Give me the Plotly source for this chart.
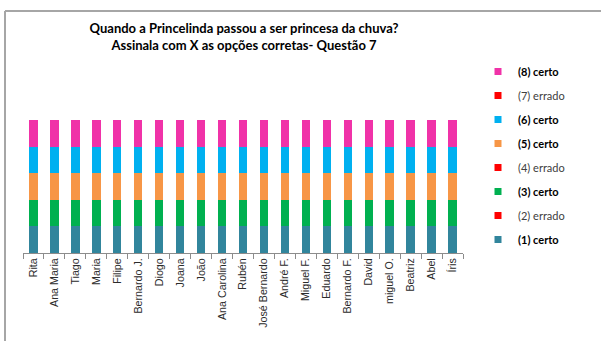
import plotly.graph_objects as go

# Students (x categories)
alunos = ["Rita", "Ana Maria", "Tiago", "Maria", "Filipe", "Bernardo J.", "Diogo",
          "Joana", "João", "Ana Carolina", "Rubén", "José Bernardo", "André F.",
          "Miguel F.", "Eduardo", "Bernardo F.", "David", "miguel O.", "Beatriz",
          "Abel", "Íris"]

# Answer options: 1 = ticked, 0 = not ticked
opcao_1 = [1] * 21
opcao_2 = [0] * 21
opcao_3 = [1] * 21
opcao_4 = [0] * 21
opcao_5 = [1] * 21
opcao_6 = [1] * 21
opcao_7 = [0] * 21
opcao_8 = [1] * 21

series = [
    ("(1) certo", opcao_1, "#31859C", True),
    ("(2) errado", opcao_2, "#FF0000", False),
    ("(3) certo", opcao_3, "#00B050", True),
    ("(4) errado", opcao_4, "#FF0000", False),
    ("(5) certo", opcao_5, "#F79646", True),
    ("(6) certo", opcao_6, "#00B0F0", True),
    ("(7) errado", opcao_7, "#FF0000", False),
    ("(8) certo", opcao_8, "#F032A8", True),
]

W, H = 601, 341
L, R, T, B = 23, 138, 120, 88
pw, ph = W - L - R, H - T - B

fig = go.Figure()
for i, (name, vals, color, ok) in enumerate(series):
    fig.add_trace(go.Bar(x=alunos, y=vals, name=name, marker_color=color,
                         marker_line_width=0, showlegend=False,
                         legendgroup=f"g{i}"))
# Legend entries with small square swatches, option 8 listed first
n = len(series)
for i, (name, vals, color, ok) in enumerate(series):
    label = f"<b>{name}</b>" if ok else f"<span style='color:#404040'>{name}</span>"
    fig.add_trace(go.Scatter(x=[None], y=[None], mode="markers", name=label,
                             marker=dict(symbol="square", size=7, color=color),
                             legendgroup=f"g{i}", legendrank=n - i))

def px_x(p):
    return (p - L) / pw

def px_y(p):
    return (H - B - p) / ph

fig.update_layout(
    width=W, height=H,
    margin=dict(l=L, r=R, t=T, b=B),
    paper_bgcolor="white", plot_bgcolor="white",
    barmode="stack", bargap=0.6,
    font=dict(family="Liberation Sans, Arial, sans-serif", color="#222"),
    title=dict(text="Quando a Princelinda passou a ser princesa da chuva?<br>Assinala com X as opções corretas- Questão 7",
               x=px_x(244), xref="paper", xanchor="center",
               y=1 - 33 / H, yref="container", yanchor="top",
               font=dict(family="Lato, sans-serif", size=13, color="#000", weight="bold")),
    xaxis=dict(showline=True, linecolor="#8c8c8c", linewidth=1,
               ticks="outside", ticklen=5, tickcolor="#8c8c8c",
               tickson="boundaries", tickangle=-90,
               tickfont=dict(size=10.7, color="#2b2b2b"), showgrid=False),
    yaxis=dict(range=[0, 5], visible=False),
    legend=dict(x=px_x(478), xanchor="left", y=px_y(57), yanchor="top",
                traceorder="grouped", tracegroupgap=5, maxheight=1.0,
                font=dict(family="Lato, sans-serif", size=11, color="#000"),
                bgcolor="rgba(0,0,0,0)"),
    shapes=[
        dict(type="line", xref="paper", yref="paper",
             x0=px_x(5), x1=px_x(610), y0=px_y(11), y1=px_y(11),
             line=dict(color="#a6a6a6", width=2)),
        dict(type="line", xref="paper", yref="paper",
             x0=px_x(5), x1=px_x(5), y0=px_y(11), y1=px_y(350),
             line=dict(color="#a6a6a6", width=2)),
    ],
)

fig.write_html("out.html")
